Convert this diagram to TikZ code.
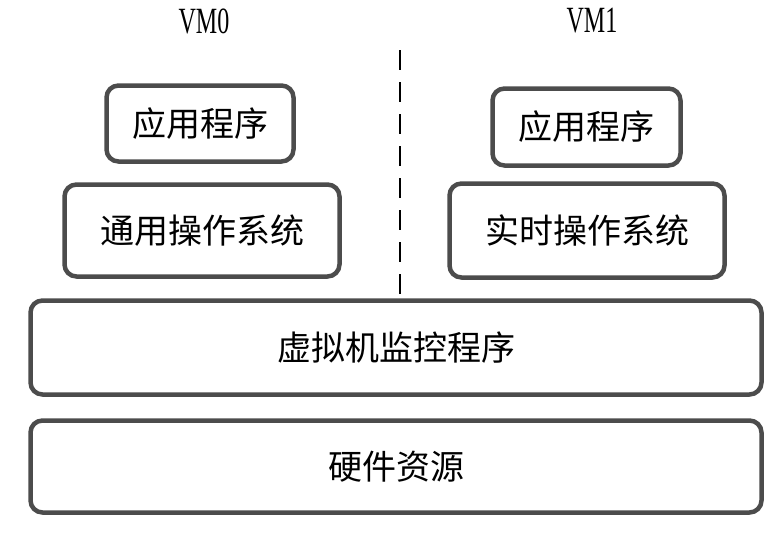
\documentclass[tikz,border=0pt]{standalone}
\usepackage{fontspec}
\usepackage{graphicx}
\setmainfont{Liberation Serif}
\newfontfamily\cjk{Noto Sans CJK SC}
\usetikzlibrary{calc}

\begin{document}
\begin{tikzpicture}[x=1pt, y=-1pt, line cap=round, line join=round]

% ---------------- styles ----------------
\tikzset{
  layerBox/.style ={draw=black!70, line width=4.5pt, rounded corners=12pt,
                    fill=white, inner sep=0pt, font=\cjk\fontsize{34}{34}\selectfont},
  vmLabel/.style  ={inner sep=0pt, font=\fontsize{37}{37}\selectfont},
  vmSplit/.style  ={draw=black, line width=2.6pt, dash pattern=on 20pt off 12pt, line cap=butt}
}

% ---------------- canvas ----------------
\useasboundingbox (0,0) rectangle (776,544);

% ---------------- VM labels ----------------
\node[vmLabel] (vm0) at (204,21) {\scalebox{0.65}[1]{VM0}};
\node[vmLabel] (vm1) at (592,21) {\scalebox{0.65}[1]{VM1}};

% ---------------- shared layers ----------------
\node[layerBox, minimum width=731pt, minimum height=94pt] (vmm) at (396,347.5) {虚拟机监控程序};
\node[layerBox, minimum width=731pt, minimum height=92pt] (hw)  at (396,466.5) {硬件资源};

% ---------------- VM0 stack ----------------
\node[layerBox, minimum width=275pt, minimum height=92pt] (os0)  at (202,230.5) {通用操作系统};
\node[layerBox, minimum width=187pt, minimum height=76pt] (app0) at (200,123.5) {应用程序};

% ---------------- VM1 stack ----------------
\node[layerBox, minimum width=275pt, minimum height=94pt] (os1)  at (587,230.5) {实时操作系统};
\node[layerBox, minimum width=188pt, minimum height=77pt] (app1) at (586.5,127) {应用程序};

% ---------------- split between VMs ----------------
\coordinate (splitTop) at (400,50);
\draw[vmSplit] (splitTop) -- (splitTop |- vmm.north);

\end{tikzpicture}
\end{document}
